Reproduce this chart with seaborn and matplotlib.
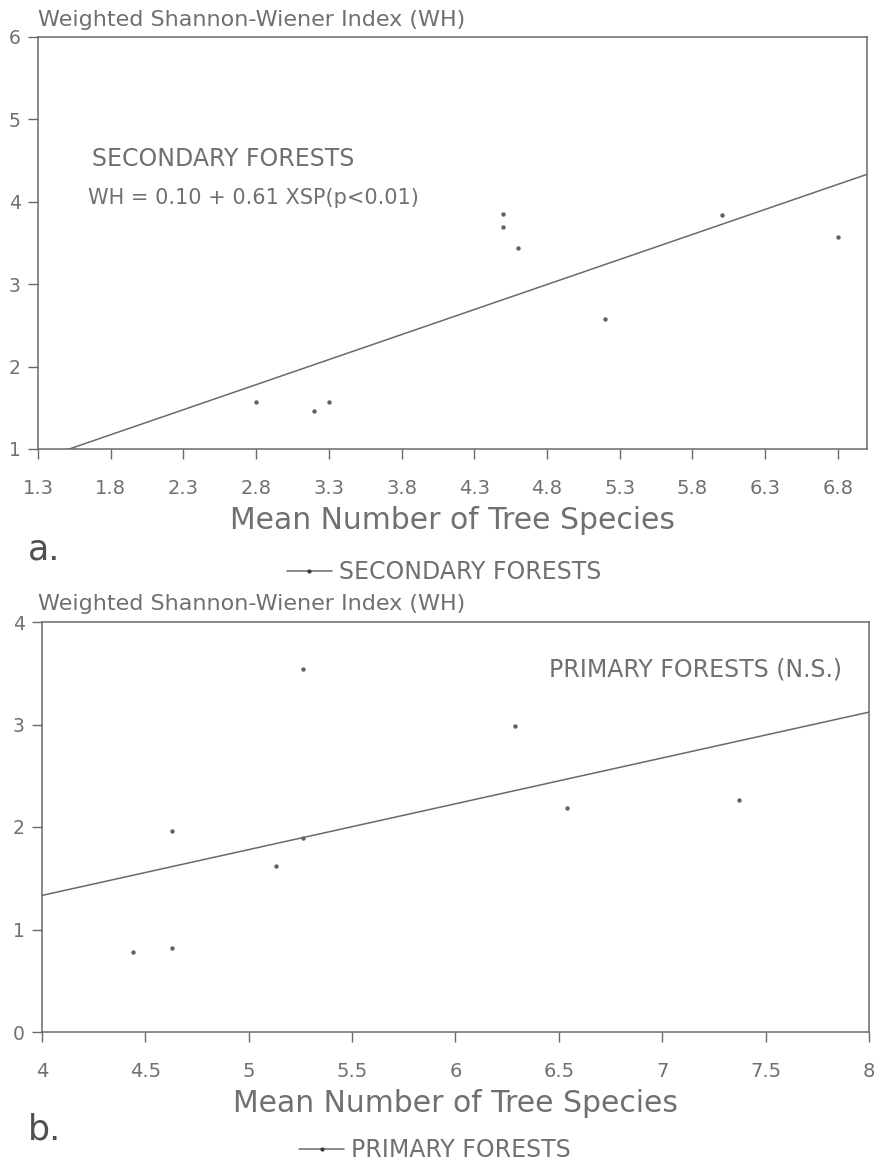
import numpy as np
import pandas as pd
import seaborn as sns
import matplotlib
matplotlib.use("Agg")
import matplotlib.pyplot as plt
from matplotlib.lines import Line2D

# Dados
sec_x = [2.8, 3.2, 3.3, 4.5, 4.5, 4.6, 5.2, 6.0, 6.8]
sec_y = [1.57, 1.46, 1.57, 3.85, 3.69, 3.44, 2.58, 3.84, 3.57]

pri_x = [4.44, 4.63, 4.63, 5.13, 5.26, 5.26, 6.29, 6.54, 7.37]
pri_y = [0.78, 0.82, 1.96, 1.62, 1.89, 3.54, 2.99, 2.19, 2.26]

sec_xticks = [1.3, 1.8, 2.3, 2.8, 3.3, 3.8, 4.3, 4.8, 5.3, 5.8, 6.3, 6.8]
sec_yticks = [1, 2, 3, 4, 5, 6]
pri_xticks = [4, 4.5, 5, 5.5, 6, 6.5, 7, 7.5, 8]
pri_yticks = [0, 1, 2, 3, 4]

sns.set_style("ticks")
plt.rcParams['font.family'] = ['DejaVu Sans']

txt = "#707070"
axc = "#6a6a6a"
dot = "#3a3a3a"

fig = plt.figure(figsize=(8.78, 11.63), dpi=100)
W, H = 878, 1163

def box(l, t, r, b):
    return [l / W, 1 - b / H, (r - l) / W, (b - t) / H]

ax1 = fig.add_axes(box(38, 37, 867, 449))
ax2 = fig.add_axes(box(42, 622, 869, 1032))

def painel(ax, x, y, xlim, ylim, xticks, yticks, xfmt):
    ax.set_xlim(*xlim)
    ax.set_ylim(*ylim)
    df = pd.DataFrame({"x": x, "y": y})
    sns.regplot(data=df, x="x", y="y", ax=ax, ci=None, truncate=False,
                scatter_kws=dict(s=10, color=dot, linewidths=0),
                line_kws=dict(color=axc, lw=1.1))
    ax.set_xlim(*xlim)
    ax.set_ylim(*ylim)
    ax.set_xticks(xticks)
    ax.set_xticklabels([xfmt(v) for v in xticks])
    ax.set_yticks(yticks)
    ax.set_xlabel("Mean Number of Tree Species", fontsize=21.5, color=txt, labelpad=6)
    ax.set_ylabel("")
    for s in ax.spines.values():
        s.set_visible(True)
        s.set_color(axc)
        s.set_linewidth(1.1)
    ax.tick_params(axis="both", colors=axc, labelcolor=txt, length=7.5, width=1.0,
                   direction="out")
    ax.tick_params(axis="x", pad=14, labelsize=14)
    ax.tick_params(axis="y", pad=5, labelsize=13.5)

painel(ax1, sec_x, sec_y, (1.3, 7.0), (1, 6), sec_xticks, sec_yticks,
       lambda v: f"{v:.1f}")
painel(ax2, pri_x, pri_y, (4, 8), (0, 4), pri_xticks, pri_yticks,
       lambda v: f"{v:g}")

# Titulos do eixo y (em cima do grafico)
fig.text(38 / W, 1 - 26 / H, "Weighted Shannon-Wiener Index (WH)", fontsize=16,
         color=txt, va="baseline", ha="left")
fig.text(38 / W, 1 - 610 / H, "Weighted Shannon-Wiener Index (WH)", fontsize=16,
         color=txt, va="baseline", ha="left")

# Anotacoes
ax1.text((92 - 38) / 829, (449 - 166) / 412, "SECONDARY FORESTS", transform=ax1.transAxes,
         fontsize=17, color=txt, va="baseline")
ax1.text((88 - 38) / 829, (449 - 204) / 412, "WH = 0.10 + 0.61 XSP(p<0.01)",
         transform=ax1.transAxes, fontsize=15, color=txt, va="baseline")
ax2.text((842 - 42) / 827, (1032 - 676) / 410, "PRIMARY FORESTS (N.S.)",
         transform=ax2.transAxes, fontsize=17, color=txt, va="baseline", ha="right")

# Letras dos paineis
fig.text(28 / W, 1 - 560 / H, "a.", fontsize=25, color="#505050", va="baseline")
fig.text(28 / W, 1 - 1140 / H, "b.", fontsize=25, color="#505050", va="baseline")

# Legendas
h1 = Line2D([], [], color=axc, lw=1.1, marker=".", markersize=4, markerfacecolor=dot,
            markeredgecolor=dot)
fig.legend([h1], ["SECONDARY FORESTS"], loc="center", bbox_to_anchor=(444 / W, 1 - 572 / H),
           frameon=False, fontsize=17, labelcolor=txt, handlelength=1.9, handletextpad=0.3,
           borderpad=0)
fig.legend([h1], ["PRIMARY FORESTS"], loc="center", bbox_to_anchor=(435 / W, 1 - 1150 / H),
           frameon=False, fontsize=17, labelcolor=txt, handlelength=1.9, handletextpad=0.3,
           borderpad=0)

fig.savefig("out.png", dpi=100)
